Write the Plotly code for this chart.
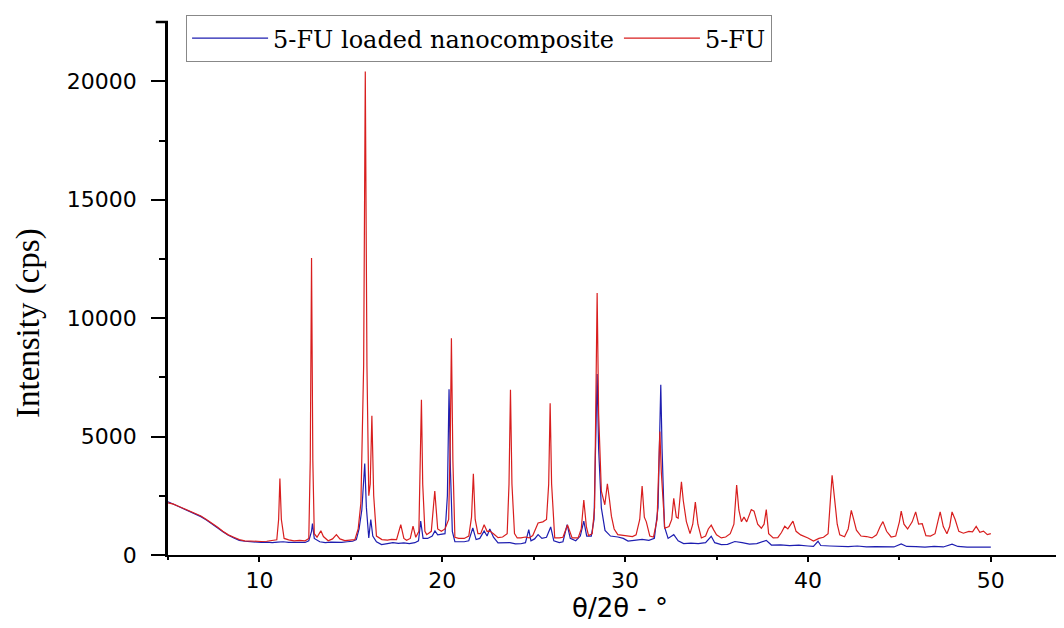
import plotly.graph_objects as go

# ---- data (2theta in degrees, intensity in cps) ----
fu_x = [5.0, 5.3, 5.6, 5.9, 6.2, 6.5, 6.8, 7.1, 7.4, 7.7, 8.0, 8.3, 8.6, 8.9, 9.2, 9.5, 9.8,
        10.1, 10.4, 10.7, 10.95, 11.05, 11.12, 11.2, 11.35, 11.6, 11.9, 12.2, 12.5, 12.7,
        12.78, 12.85, 12.92, 13.0, 13.15, 13.36, 13.5, 13.76, 14.0, 14.21, 14.4, 14.67,
        14.9, 15.22, 15.4, 15.55, 15.7, 15.79, 15.88, 15.98, 16.06, 16.15, 16.25, 16.4,
        16.7, 17.0, 17.22, 17.5, 17.73, 17.9, 18.05, 18.25, 18.4, 18.55, 18.72, 18.8,
        18.86, 18.93, 19.05, 19.15, 19.4, 19.59, 19.75, 19.95, 20.15, 20.35, 20.44, 20.5,
        20.58, 20.69, 20.9, 21.2, 21.45, 21.6, 21.7, 21.8, 21.95, 22.1, 22.29, 22.45, 22.6,
        22.8, 23.05, 23.3, 23.55, 23.65, 23.73, 23.81, 23.95, 24.1, 24.3, 24.55, 24.75,
        24.95, 25.24, 25.5, 25.7, 25.82, 25.9, 25.98, 26.15, 26.4, 26.6, 26.85, 27.1,
        27.43, 27.6, 27.74, 27.88, 28.0, 28.2, 28.33, 28.4, 28.47, 28.55, 28.7, 28.89,
        29.03, 29.15, 29.25, 29.4, 29.6, 29.9, 30.16, 30.4, 30.6, 30.8, 30.93, 31.05,
        31.16, 31.35, 31.55, 31.75, 31.85, 31.9, 31.98, 32.17, 32.4, 32.55, 32.66, 32.8,
        32.9, 33.02, 33.08, 33.18, 33.35, 33.55, 33.7, 33.84, 33.98, 34.17, 34.4, 34.55,
        34.71, 34.85, 35.0, 35.26, 35.5, 35.75, 35.95, 36.1, 36.22, 36.36, 36.5, 36.65,
        36.9, 37.05, 37.25, 37.45, 37.6, 37.72, 37.85, 38.1, 38.35, 38.55, 38.73, 38.9,
        39.18, 39.35, 39.6, 40.0, 40.3, 40.6, 40.85, 41.1, 41.25, 41.32, 41.46, 41.6,
        41.74, 42.0, 42.2, 42.37, 42.5, 42.65, 42.9, 43.2, 43.5, 43.75, 43.95, 44.1, 44.3,
        44.55, 44.8, 45.0, 45.1, 45.25, 45.45, 45.7, 45.89, 46.05, 46.25, 46.45, 46.7,
        46.95, 47.1, 47.23, 47.4, 47.6, 47.75, 47.88, 48.05, 48.25, 48.5, 48.8, 49.0,
        49.2, 49.4, 49.6, 49.81, 50.0]
fu_y = [2200, 2150, 2050, 1950, 1850, 1750, 1650, 1500, 1350, 1180, 1000, 850, 750, 650, 600,
        580, 560, 570, 580, 600, 640, 1500, 3230, 1500, 700, 640, 600, 620, 600, 700,
        4000, 12540, 4000, 900, 750, 1020, 780, 600, 680, 860, 680, 610,
        640, 650, 1100, 2200, 8000, 20420, 8000, 2500, 3000, 5875, 2500, 800,
        650, 630, 660, 650, 1280, 700, 620, 700, 1215, 750, 1000, 3500,
        6550, 3000, 1000, 860, 1000, 2700, 1100, 1000, 1100, 1500, 5000, 9150,
        4000, 750, 700, 700, 800, 1600, 3430, 1500, 900, 900, 1280, 1000, 1010,
        900, 730, 760, 900, 3000, 6980, 3000, 900, 720, 720, 760, 720,
        820, 1355, 1400, 1500, 3000, 6410, 3000, 720, 720, 750, 1270, 720,
        720, 1100, 2320, 1200, 820, 900, 2000, 6000, 11060, 6000, 2700, 2120,
        3010, 2300, 1640, 1100, 860, 830, 800, 780, 850, 1500, 2910, 1600,
        1400, 800, 760, 1500, 4000, 5210, 3500, 1130, 1200, 1500, 2390, 1600,
        1550, 2600, 3090, 2300, 1410, 900, 1300, 2230, 1300, 720, 800, 1100,
        1260, 1050, 850, 720, 760, 900, 1300, 2950, 1900, 1410, 1600, 1400,
        1920, 1850, 1300, 1130, 1300, 1920, 900, 720, 730, 950, 1215, 1100,
        1430, 1000, 850, 720, 590, 700, 750, 900, 2500, 3370, 2340, 1300,
        850, 770, 1100, 1880, 1500, 1050, 800, 780, 720, 850, 1200, 1410, 1000,
        760, 800, 1400, 1850, 1300, 1100, 1400, 1820, 1300, 1320, 820, 800,
        900, 1400, 1820, 1200, 900, 1200, 1820, 1500, 1000, 920, 1000, 980,
        1210, 960, 1010, 860, 900]

nano_x = [5.0, 5.3, 5.6, 5.9, 6.2, 6.5, 6.8, 7.1, 7.4, 7.7, 8.0, 8.3, 8.6, 8.9, 9.2, 9.5, 9.8,
          10.1, 10.4, 10.7, 11.0, 11.3, 11.6, 11.9, 12.2, 12.5, 12.7, 12.85, 12.9, 13.0,
          13.3, 13.6, 13.9, 14.2, 14.5, 14.8, 15.1, 15.3, 15.45, 15.6, 15.7, 15.76, 15.85,
          15.98, 16.09, 16.2, 16.4, 16.68, 17.0, 17.3, 17.6, 17.9, 18.2, 18.5, 18.7, 18.82,
          18.95, 19.2, 19.45, 19.6, 19.75, 19.95, 20.15, 20.28, 20.37, 20.45, 20.55, 20.69,
          20.9, 21.2, 21.45, 21.67, 21.85, 22.05, 22.29, 22.45, 22.6, 22.8, 23.05, 23.4,
          23.7, 24.0, 24.3, 24.55, 24.73, 24.85, 25.05, 25.24, 25.45, 25.7, 25.93, 26.1,
          26.4, 26.6, 26.83, 27.0, 27.3, 27.55, 27.74, 27.9, 28.15, 28.3, 28.4, 28.47,
          28.55, 28.7, 28.9, 29.2, 29.6, 29.9, 30.16, 30.5, 30.93, 31.3, 31.6, 31.8, 31.9,
          31.95, 32.02, 32.15, 32.35, 32.66, 32.9, 33.2, 33.6, 34.0, 34.4, 34.71, 34.9,
          35.26, 35.6, 36.0, 36.4, 36.8, 37.2, 37.72, 38.0, 38.5, 39.0, 39.5, 40.0, 40.3,
          40.55, 40.7, 41.2, 41.7, 42.2, 42.7, 43.2, 43.7, 44.2, 44.7, 45.1, 45.4, 45.9,
          46.4, 46.9, 47.4, 47.88, 48.2, 48.7, 49.2, 49.6, 50.0]
nano_y = [2250, 2150, 2050, 1950, 1820, 1720, 1620, 1480, 1330, 1150, 980, 830, 720, 620, 580,
          560, 540, 530, 540, 520, 540, 560, 530, 520, 540, 530, 600, 1000, 1330, 700,
          560, 520, 540, 520, 530, 560, 580, 650, 1100, 1900, 3000, 3860, 2000,
          720, 1500, 800, 560, 440, 480, 520, 490, 510, 480, 520, 600, 1430,
          700, 700, 800, 1015, 850, 860, 900, 2500, 7000, 3500, 1000, 560,
          550, 560, 600, 1140, 650, 700, 1015, 800, 1100, 750, 510, 500,
          520, 470, 475, 520, 1070, 600, 680, 860, 700, 750, 1185, 600,
          520, 560, 1280, 700, 600, 800, 1430, 800, 800, 1500, 4500, 7640,
          4500, 1990, 1040, 800, 760, 700, 590, 620, 660, 620, 700, 2000, 5500,
          7190, 4500, 1200, 700, 860, 600, 480, 500, 480, 520, 790, 520,
          440, 450, 570, 520, 460, 480, 620, 420, 430, 400, 420, 380, 360,
          580, 400, 380, 370, 350, 380, 340, 350, 330, 340, 466, 360, 350,
          330, 360, 340, 460, 360, 330, 340, 320, 330]

series_names = ["5-FU loaded nanocomposite", "5-FU"]
x_tick_vals = [10, 20, 30, 40, 50]
x_tick_text = ["10", "20", "30", "40", "50"]
y_tick_vals = [0, 5000, 10000, 15000, 20000]
y_tick_text = ["0", "5000", "10000", "15000", "20000"]
x_title = "θ/2θ - °"
y_title = "Intensity (cps)"

BLUE = "#1e1eb0"
RED = "#d81e1e"

fig = go.Figure()
fig.add_trace(go.Scatter(x=nano_x, y=nano_y, mode="lines", name=series_names[0],
                         line=dict(color=BLUE, width=1.2)))
fig.add_trace(go.Scatter(x=fu_x, y=fu_y, mode="lines", name=series_names[1],
                         line=dict(color=RED, width=1.2)))

tick_font = dict(family="DejaVu Sans", size=22, color="black")

fig.update_layout(
    width=1064, height=628,
    margin=dict(l=160, r=0, t=14, b=81),
    paper_bgcolor="white", plot_bgcolor="white",
    showlegend=True,
    legend=dict(orientation="h", x=0.02, y=1.013, xanchor="left", yanchor="top",
                bordercolor="#888888", borderwidth=1, bgcolor="white",
                font=dict(family="DejaVu Serif", size=24, color="black"),
                itemwidth=76, tracegroupgap=0),
    xaxis=dict(range=[5, 54.44], tickvals=x_tick_vals, ticktext=x_tick_text,
               ticks="outside", ticklen=5,
               tickwidth=2, tickcolor="black", showline=True, linecolor="black",
               linewidth=2, showgrid=False, zeroline=False, tickfont=tick_font,
               minor=dict(dtick=5, tick0=0, ticks="outside", ticklen=3, tickwidth=2,
                          tickcolor="black", showgrid=False),
               title=dict(text=x_title, font=dict(family="DejaVu Sans", size=26,
                                                  color="black"), standoff=4)),
    yaxis=dict(range=[0, 22505], tickvals=y_tick_vals, ticktext=y_tick_text,
               ticks="outside", ticklen=14, ticklabelstandoff=10,
               tickwidth=2, tickcolor="black", showline=True, linecolor="black",
               linewidth=2.5, showgrid=False, zeroline=False, tickfont=tick_font,
               minor=dict(dtick=2500, tick0=0, ticks="outside", ticklen=6, tickwidth=2,
                          tickcolor="black", showgrid=False)),
    annotations=[dict(text=y_title, textangle=-90, xref="paper", yref="paper",
                      x=-0.155, y=0.435, xanchor="center", yanchor="middle",
                      showarrow=False,
                      font=dict(family="Liberation Serif", size=33, color="black"))],
    shapes=[dict(type="line", xref="paper", yref="paper", x0=-0.0135, x1=0, y0=1, y1=1,
                 line=dict(color="black", width=2.5))],
)

fig.write_html("out.html")
